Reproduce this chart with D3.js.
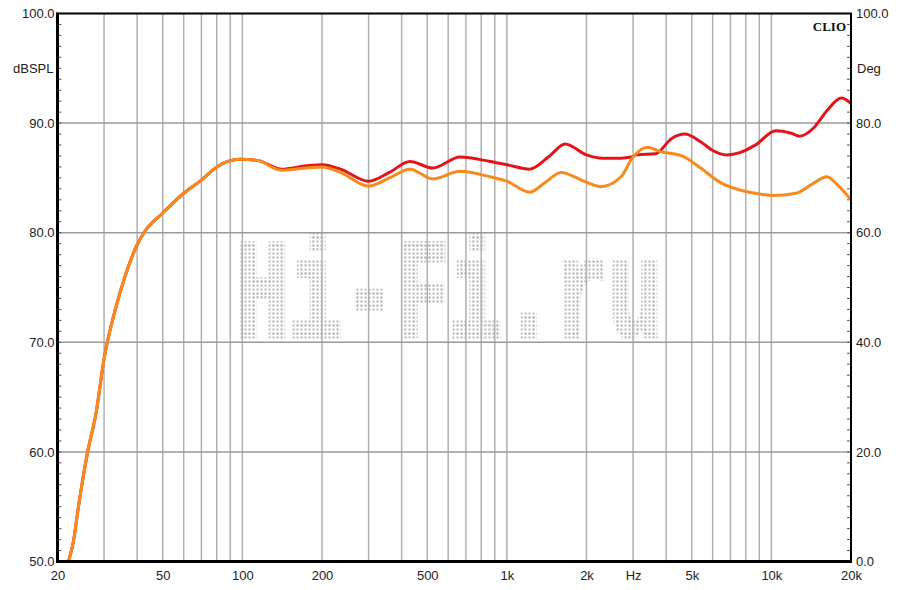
<!DOCTYPE html>
<html>
<head>
<meta charset="utf-8">
<script src="https://cdn.jsdelivr.net/npm/d3@7"></script>
<style>
  html, body { margin: 0; padding: 0; background: #fff; }
  svg { display: block; }
</style>
</head>
<body>
<svg id="chart" width="900" height="590"></svg>
<script>
// ---- data ----
const freqRed = [22, 23, 24, 26, 28, 30, 33, 36, 40, 43, 50, 60, 70, 80, 98, 114, 140, 175, 200, 235, 300, 360, 430, 525, 665, 865, 1000, 1220, 1450, 1660, 2000, 2300, 2700, 2950, 3100, 3650, 4200, 4700, 5400, 6000, 6800, 7600, 8700, 10400, 11800, 12800, 14500, 16300, 18400, 20000];
const splRed  = [50, 51.9, 55, 60, 63.6, 68.5, 72.9, 76, 78.9, 80.2, 81.8, 83.6, 84.8, 86.0, 86.7, 86.6, 85.8, 86.1, 86.2, 85.8, 84.7, 85.5, 86.5, 85.9, 86.9, 86.5, 86.2, 85.8, 87.0, 88.1, 87.1, 86.8, 86.8, 86.9, 87.1, 87.2, 88.6, 89.0, 88.3, 87.5, 87.1, 87.3, 88.0, 89.3, 89.1, 88.8, 89.6, 91.2, 92.3, 91.8];

const freqOrange = [22, 23, 24, 26, 28, 30, 33, 36, 40, 43, 50, 60, 70, 80, 98, 114, 140, 175, 200, 235, 300, 360, 430, 525, 665, 865, 1000, 1220, 1400, 1600, 2000, 2270, 2700, 3000, 3400, 3800, 4600, 5400, 6500, 7600, 8700, 10100, 12400, 14400, 16200, 17900, 20000];
const splOrange  = [50, 51.9, 55, 60, 63.6, 68.5, 72.9, 76, 78.9, 80.2, 81.8, 83.6, 84.8, 86.0, 86.7, 86.6, 85.7, 85.9, 86.0, 85.5, 84.25, 85.0, 85.8, 84.9, 85.6, 85.1, 84.7, 83.7, 84.6, 85.5, 84.6, 84.2, 85.1, 86.9, 87.8, 87.4, 87.0, 85.9, 84.5, 83.9, 83.6, 83.4, 83.6, 84.5, 85.1, 84.3, 83.0];

const xTickValues = [20, 50, 100, 200, 500, 1000, 2000, 3000, 5000, 10000, 20000];
const xTickLabels = ["20", "50", "100", "200", "500", "1k", "2k", "Hz", "5k", "10k", "20k"];
const xGridValues = [30, 40, 50, 60, 70, 80, 90, 100, 200, 300, 400, 500, 600, 700, 800, 900, 1000, 2000, 3000, 4000, 5000, 6000, 7000, 8000, 9000, 10000];
const yTickValues = [50, 60, 70, 80, 90, 100];
const yRightTickValues = [0, 20, 40, 60, 80, 100];

// ---- layout ----
const L = 57.5, R = 851, T = 13.5, B = 561.5;
const svg = d3.select("#chart");
const x = d3.scaleLog().domain([20, 20000]).range([L, R]);
const y = d3.scaleLinear().domain([50, 100]).range([B, T]);
const yr = d3.scaleLinear().domain([0, 100]).range([B, T]);

// watermark (dotted text), horizontally compressed
const sx = 0.634;
const defs = svg.append("defs");
const pat = defs.append("pattern").attr("id", "dots").attr("patternUnits", "userSpaceOnUse")
  .attr("width", 4 / sx).attr("height", 4);
pat.append("rect").attr("x", 0.5 / sx).attr("y", 0.5).attr("width", 2 / sx).attr("height", 2).attr("fill", "#b3b3b3");

svg.append("text")
  .attr("transform", `translate(236,336) scale(${sx},1)`)
  .attr("font-family", "Liberation Mono, Courier New, monospace")
  .attr("font-weight", "bold")
  .attr("font-size", 140)
  .attr("fill", "url(#dots)")
  .attr("stroke", "url(#dots)")
  .attr("stroke-width", 6)
  .text("Hi-Fi.ru");

// grid
svg.append("g").selectAll("line").data(xGridValues).join("line")
  .attr("x1", d => x(d)).attr("x2", d => x(d)).attr("y1", T).attr("y2", B)
  .attr("stroke", "#b0b0b0").attr("stroke-width", 1.5);
svg.append("g").selectAll("line").data([60, 70, 80, 90]).join("line")
  .attr("x1", L).attr("x2", R).attr("y1", d => y(d)).attr("y2", d => y(d))
  .attr("stroke", "#9a9a9a").attr("stroke-width", 1.5);

// minor ticks
const minor = d3.range(51, 100);
svg.append("g").selectAll("line").data(minor).join("line")
  .attr("x1", L).attr("x2", L + 4).attr("y1", d => y(d)).attr("y2", d => y(d))
  .attr("stroke", "#555").attr("stroke-width", 1);
svg.append("g").selectAll("line").data(minor).join("line")
  .attr("x1", R - 4).attr("x2", R).attr("y1", d => y(d)).attr("y2", d => y(d))
  .attr("stroke", "#555").attr("stroke-width", 1);

// curves
const line = d3.line().x(d => x(d[0])).y(d => y(d[1])).curve(d3.curveMonotoneX);
const redData = freqRed.map((f, i) => [f, splRed[i]]);
const orangeData = freqOrange.map((f, i) => [f, splOrange[i]]);
const clip = defs.append("clipPath").attr("id", "clip");
clip.append("rect").attr("x", L).attr("y", T).attr("width", R - L).attr("height", B - T);
const cg = svg.append("g").attr("clip-path", "url(#clip)");
cg.append("path").datum(redData).attr("d", line).attr("fill", "none")
  .attr("stroke", "#e4141b").attr("stroke-width", 3).attr("stroke-linejoin", "round");
cg.append("path").datum(orangeData).attr("d", line).attr("fill", "none")
  .attr("stroke", "#f78a1d").attr("stroke-width", 3).attr("stroke-linejoin", "round");

// frame
svg.append("line").attr("x1", L - 1).attr("x2", R + 1).attr("y1", T).attr("y2", T).attr("stroke", "#000").attr("stroke-width", 2);
svg.append("line").attr("x1", R).attr("x2", R).attr("y1", T).attr("y2", B).attr("stroke", "#000").attr("stroke-width", 2);
svg.append("line").attr("x1", L).attr("x2", L).attr("y1", T - 1).attr("y2", B + 1).attr("stroke", "#000").attr("stroke-width", 3);
svg.append("line").attr("x1", L - 1.5).attr("x2", R + 1).attr("y1", B).attr("y2", B).attr("stroke", "#000").attr("stroke-width", 3);

// axes labels
const font = "Liberation Sans, Arial, sans-serif";
const axL = svg.append("g").attr("transform", `translate(${L - 3},0)`)
  .call(d3.axisLeft(y).tickValues(yTickValues).tickSize(0).tickPadding(0).tickFormat(d3.format(".1f")));
const axR = svg.append("g").attr("transform", `translate(${R + 5},0)`)
  .call(d3.axisRight(yr).tickValues(yRightTickValues).tickSize(0).tickPadding(0).tickFormat(d3.format(".1f")));
const axB = svg.append("g").attr("transform", `translate(0,${B + 9})`)
  .call(d3.axisBottom(x).tickValues(xTickValues).tickSize(0).tickPadding(0).tickFormat((d, i) => xTickLabels[i]));
[axL, axR, axB].forEach(a => {
  a.select(".domain").remove();
  a.selectAll("text").attr("font-family", font).attr("font-size", 13).attr("fill", "#222");
});

svg.append("text").attr("x", L - 4).attr("y", 73).attr("text-anchor", "end")
  .attr("font-family", font).attr("font-size", 13).attr("fill", "#222").text("dBSPL");
svg.append("text").attr("x", R + 6).attr("y", 73)
  .attr("font-family", font).attr("font-size", 13).attr("fill", "#222").text("Deg");
svg.append("text").attr("x", 846).attr("y", 31).attr("text-anchor", "end")
  .attr("font-family", "Liberation Serif, Times New Roman, serif").attr("font-weight", "bold")
  .attr("font-size", 13).attr("fill", "#111").text("CLIO");
</script>
</body>
</html>
